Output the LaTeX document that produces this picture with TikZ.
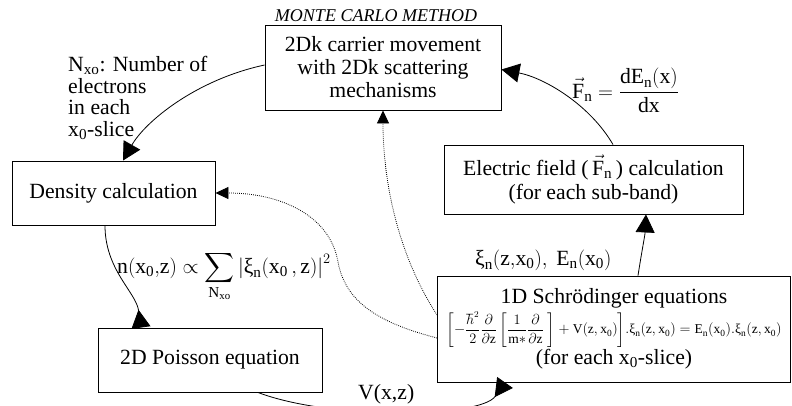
\documentclass[tikz,border=0pt]{standalone}
\usepackage{amsmath}
\usepackage{fontspec}
\setmainfont{Liberation Serif}
\usetikzlibrary{arrows.meta}
\newcommand\bfs{\fontsize{21.7}{23}\selectfont}
\newcommand\xii{\mbox{ξ}}
\tikzset{
  box/.style={draw, line width=0.9pt, fill=white, inner sep=0pt, align=center, font=\bfs},
  conn/.style={line width=0.8pt, -{Triangle[length=18pt,width=19pt]}},
  connrev/.style={line width=0.8pt, -{Triangle[reversed,length=18pt,width=19pt]}},
  dotconn/.style={line width=0.8pt, dash pattern=on 0.8pt off 1.2pt, -{Triangle[length=13pt,width=12pt]}},
  lbl/.style={font=\bfs, inner sep=0pt}
}
\begin{document}
\begin{tikzpicture}[x=1pt,y=-1pt]
\useasboundingbox (0,0) rectangle (792,405);
% boxes
\node[box, minimum width=236pt, minimum height=85pt] (mc) at (383,67.5) {2Dk carrier movement\\with 2Dk scattering\\mechanisms};
\node[box, minimum width=203pt, minimum height=64pt] (dens) at (113.5,193) {Density calculation};
\node[box, minimum width=299pt, minimum height=69pt] (ef) at (593.5,179.5) {Electric field (\,$\vec{\mathrm{F}}_{\mathrm{n}}$\,) calculation\\[1pt](for each sub-band)};
\node[box, minimum width=353pt, minimum height=106pt] (sch) at (614,329) {1D Schrödinger equations\\[2pt]
{\fontsize{13.5}{14}\selectfont$\left[-\dfrac{\hbar^2}{2}\dfrac{\partial}{\partial \mathrm{z}}\left[\dfrac{1}{\mathrm{m*}}\dfrac{\partial}{\partial \mathrm{z}}\;\right]+\mathrm{V(z,x_0)}\right]\!.\xii_{\mathrm{n}}\mathrm{(z,x_0)}=\mathrm{E_n(x_0)}.\xii_{\mathrm{n}}\mathrm{(z,x_0)}$}\\[1pt]
(for each x\textsubscript{0}-slice)};
\node[box, minimum width=224pt, minimum height=64pt] (pois) at (210,360) {2D Poisson equation};
% labels
\node[inner sep=0pt, anchor=base, font=\fontsize{18}{18}\selectfont\itshape] (mcl) at (376,21) {MONTE CARLO METHOD};
\node[lbl, anchor=north west, align=left, font=\fontsize{21.7}{21.7}\selectfont] (nlab) at (68,56) {N\textsubscript{xo}: Number of\\electrons\\in each\\x\textsubscript{0}-slice};
\node[lbl, anchor=base west] (nform) at (117,273) {$\mathrm{n(x_0{,}z)}\propto\displaystyle\sum_{\mathrm{N_{xo}}}\left|\xii_{\mathrm{n}}\mathrm{(x_0\,,z)}\right|^2$};
\node[lbl, anchor=base west] (xlab) at (475,265) {$\xii_{\mathrm{n}}\mathrm{(z{,}x_0),\ E_n(x_0)}$};
\node[lbl, anchor=base west] (vlab) at (358,399) {V(x,z)};
\node[lbl, anchor=base west] (flab) at (572,98) {$\vec{\mathrm{F}}_{\mathrm{n}}=\dfrac{\mathrm{dE_n(x)}}{\mathrm{dx}}$};
% connectors
\draw[conn] ([yshift=2.5pt]mc.west) .. controls (195,80) and (145,122) .. ([xshift=9.5pt]dens.north);
\draw[connrev] ([xshift=-8.5pt]dens.south) .. controls (105,270) and (136,292) .. ([xshift=-69pt]pois.north);
\draw[connrev] ([xshift=48pt]pois.south) .. controls (330,420) and (480,418) .. ([xshift=-109pt]sch.south);
\draw[conn] ([xshift=24pt]sch.north) .. controls (642,250) and (645,235) .. ([xshift=52.5pt]ef.south);
\draw[conn] ([xshift=19.5pt]ef.north) .. controls (590,105) and (545,78) .. ([yshift=-2pt]mc.east);
\draw[dotconn] ([yshift=14pt]sch.west) .. controls (395,250) and (383,175) .. (mc.south);
\draw[dotconn] ([yshift=-9pt]sch.west) .. controls (375,322) and (345,300) .. (338,262) .. controls (330,215) and (280,193) .. (dens.east);
\end{tikzpicture}
\end{document}
